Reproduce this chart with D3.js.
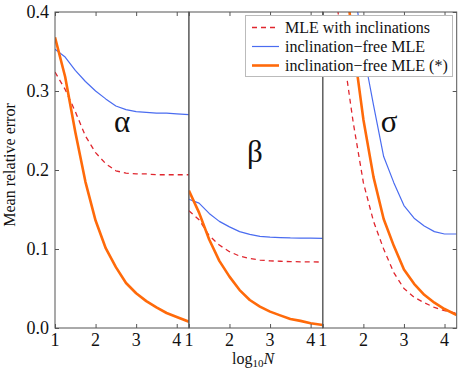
<!DOCTYPE html>
<html>
<head>
<meta charset="utf-8">
<script src="https://cdn.jsdelivr.net/npm/d3@7"></script>
<style>
  body { margin: 0; background: #fff; }
  text { font-family: "Liberation Serif", "Times New Roman", serif; fill: #111; }
</style>
</head>
<body>
<div id="chart"></div>
<script>
// log10 N grid used for every curve
var logN = [1, 1.25, 1.5, 1.75, 2, 2.25, 2.5, 2.75, 3, 3.25, 3.5, 3.75, 4, 4.3];

var panelNames = ["α", "β", "σ"];
var seriesNames = ["MLE with inclinations", "inclination\u2212free MLE", "inclination\u2212free MLE (*)"];

// alpha panel
var alphaRed    = [0.324, 0.302, 0.274, 0.243, 0.222, 0.208, 0.199, 0.196, 0.195, 0.195, 0.194, 0.194, 0.194, 0.194];
var alphaBlue   = [0.353, 0.343, 0.326, 0.312, 0.300, 0.290, 0.281, 0.2765, 0.274, 0.273, 0.272, 0.272, 0.271, 0.270];
var alphaOrange = [0.368, 0.318, 0.248, 0.185, 0.136, 0.101, 0.077, 0.057, 0.044, 0.034, 0.026, 0.019, 0.014, 0.008];

// beta panel
var betaRed    = [0.1485, 0.137, 0.117, 0.105, 0.0966, 0.091, 0.088, 0.086, 0.085, 0.0845, 0.084, 0.0838, 0.0837, 0.0835];
var betaBlue   = [0.163, 0.158, 0.145, 0.135, 0.128, 0.122, 0.1186, 0.116, 0.115, 0.1145, 0.114, 0.1138, 0.1137, 0.1135];
var betaOrange = [0.174, 0.146, 0.112, 0.085, 0.065, 0.048, 0.0354, 0.027, 0.0207, 0.016, 0.0115, 0.009, 0.006, 0.0038];

// sigma panel (starts above the plot top, clipped)
var sigmaRed    = [0.55, 0.45, 0.35, 0.26, 0.184, 0.135, 0.100, 0.070, 0.050, 0.039, 0.032, 0.026, 0.022, 0.0186];
var sigmaBlue   = [0.80, 0.65, 0.53, 0.44, 0.35, 0.282, 0.217, 0.184, 0.155, 0.139, 0.129, 0.122, 0.119, 0.119];
var sigmaOrange = [0.72, 0.59, 0.47, 0.36, 0.264, 0.191, 0.138, 0.104, 0.074, 0.056, 0.042, 0.032, 0.024, 0.0165];

var xTicks = [1, 2, 3, 4];
var yTicks = [0, 0.1, 0.2, 0.3, 0.4];

var panelData = [
  [alphaRed, alphaBlue, alphaOrange],
  [betaRed, betaBlue, betaOrange],
  [sigmaRed, sigmaBlue, sigmaOrange]
];

var styles = [
  {color: "#e0262e", width: 1.3, dash: "5,4"},
  {color: "#4a6cf0", width: 1.2, dash: null},
  {color: "#ff6a0a", width: 2.6, dash: null}
];

var width = 463, height = 368;
var plotLeft = 55, plotTop = 12, plotBottom = 328, panelW = 133.9;
var labelPos = [{x: 122, y: 132}, {x: 255, y: 162}, {x: 389, y: 132}];

var svg = d3.select("#chart").append("svg")
    .attr("width", width)
    .attr("height", height);

var y = d3.scaleLinear().domain([0, 0.4]).range([plotBottom, plotTop]);

function greyTicks(a) {
  a.select(".domain").remove();
  a.selectAll("line").attr("stroke", "#555");
}

panelData.forEach(function(series, p) {
  var x0 = plotLeft + p * panelW;
  var x = d3.scaleLinear().domain([1, 4.3]).range([x0, x0 + panelW]);

  var g = svg.append("g");

  g.append("clipPath")
      .attr("id", "clip" + p)
    .append("rect")
      .attr("x", x0).attr("y", plotTop)
      .attr("width", panelW).attr("height", plotBottom - plotTop);

  var line = d3.line()
      .x(function(d, i) { return x(logN[i]); })
      .y(function(d) { return y(d); });

  series.forEach(function(vals, s) {
    g.append("path")
        .datum(vals)
        .attr("clip-path", "url(#clip" + p + ")")
        .attr("fill", "none")
        .attr("stroke", styles[s].color)
        .attr("stroke-width", styles[s].width)
        .attr("stroke-dasharray", styles[s].dash)
        .attr("stroke-linejoin", "round")
        .attr("d", line);
  });

  // frame
  g.append("rect")
      .attr("x", x0).attr("y", plotTop)
      .attr("width", panelW).attr("height", plotBottom - plotTop)
      .attr("fill", "none")
      .attr("stroke", "#555")
      .attr("stroke-width", 1);

  // inward ticks on bottom and top
  g.append("g").attr("transform", "translate(0," + plotBottom + ")")
      .call(d3.axisTop(x).tickValues(xTicks).tickSize(4).tickFormat(""))
      .call(greyTicks);
  g.append("g").attr("transform", "translate(0," + plotTop + ")")
      .call(d3.axisBottom(x).tickValues(xTicks).tickSize(4).tickFormat(""))
      .call(greyTicks);

  // tick labels
  g.selectAll(".xl")
      .data(xTicks)
    .enter().append("text")
      .attr("x", function(d) { return x(d); })
      .attr("y", 346)
      .attr("text-anchor", "middle")
      .style("font-size", "18px")
      .text(function(d) { return d; });

  g.append("text")
      .attr("x", labelPos[p].x)
      .attr("y", labelPos[p].y)
      .attr("text-anchor", "middle")
      .style("font-size", "31px")
      .text(panelNames[p]);
});

// y ticks: left of first panel, right of last panel
var rightX = plotLeft + 3 * panelW;
svg.append("g").attr("transform", "translate(" + plotLeft + ",0)")
    .call(d3.axisRight(y).tickValues(yTicks).tickSize(4).tickFormat(""))
    .call(greyTicks);
svg.append("g").attr("transform", "translate(" + rightX + ",0)")
    .call(d3.axisLeft(y).tickValues(yTicks).tickSize(4).tickFormat(""))
    .call(greyTicks);

svg.selectAll(".yl")
    .data(yTicks)
  .enter().append("text")
    .attr("x", 49)
    .attr("y", function(d) { return y(d) + 6; })
    .attr("text-anchor", "end")
    .style("font-size", "18px")
    .text(function(d) { return d3.format(".1f")(d); });

// axis titles
svg.append("text")
    .attr("transform", "translate(15,165) rotate(-90)")
    .attr("text-anchor", "middle")
    .style("font-size", "16px")
    .text("Mean relative error");

var xl = svg.append("text")
    .attr("x", 253)
    .attr("y", 364)
    .attr("text-anchor", "middle")
    .style("font-size", "16px");
xl.append("tspan").text("log");
xl.append("tspan").attr("dy", 3).style("font-size", "11px").text("10");
xl.append("tspan").attr("dy", -3).style("font-style", "italic").text("N");

// legend
var lg = svg.append("g");
lg.append("rect")
    .attr("x", 245.5).attr("y", 15.5)
    .attr("width", 207).attr("height", 61)
    .attr("fill", "#fff")
    .attr("stroke", "#bbb");

seriesNames.forEach(function(name, s) {
  var ly = 27.5 + s * 19;
  lg.append("line")
      .attr("x1", 252).attr("x2", 279)
      .attr("y1", ly).attr("y2", ly)
      .attr("stroke", styles[s].color)
      .attr("stroke-width", styles[s].width)
      .attr("stroke-dasharray", styles[s].dash);
  lg.append("text")
      .attr("x", 285)
      .attr("y", ly + 5)
      .style("font-size", "16px")
      .text(name);
});
</script>
</body>
</html>
